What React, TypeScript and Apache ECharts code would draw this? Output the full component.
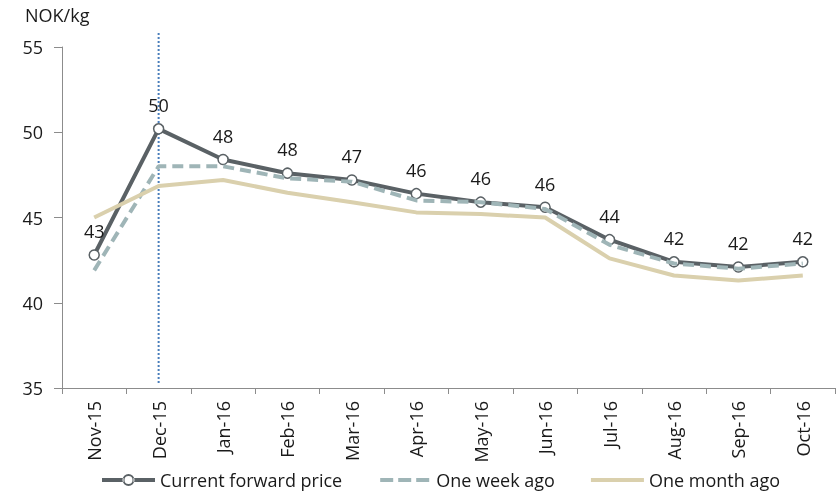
import React, { useEffect, useRef } from "react";
import * as echarts from "echarts";

const categories = ["Nov-15", "Dec-15", "Jan-16", "Feb-16", "Mar-16", "Apr-16", "May-16", "Jun-16", "Jul-16", "Aug-16", "Sep-16", "Oct-16"];
const currentForward = [42.8, 50.2, 48.4, 47.6, 47.2, 46.4, 45.9, 45.6, 43.7, 42.4, 42.1, 42.4];
const oneWeekAgo = [41.9, 48.0, 48.0, 47.3, 47.1, 46.0, 45.9, 45.5, 43.4, 42.3, 42.0, 42.3];
const oneMonthAgo = [45.0, 46.85, 47.2, 46.45, 45.9, 45.3, 45.2, 45.0, 42.6, 41.6, 41.3, 41.6];
const markerCategory = "Dec-15";
const yTicks = { min: 35, max: 55, interval: 5 };

const FONT = "'Open Sans', sans-serif";
const TEXT = "#1a1a1a";
const C_CUR = "#5a6165";
const C_WEEK = "#9fb5b7";
const C_MONTH = "#dad0ad";

const BOUNDS = "M0,0h0.01v0.01h-0.01z M52.99,13.99h0.01v0.01h-0.01z ";
const ICON_CUR =
  "path://" + BOUNDS +
  "M0,5h21.5v4h-21.5z M31.5,5h21.5v4h-21.5z " +
  "M20.5,7a6,6 0 1,0 12,0a6,6 0 1,0 -12,0z M22.5,7a4,4 0 1,1 8,0a4,4 0 1,1 -8,0z";
const ICON_WEEK = "path://" + BOUNDS + "M2,5h13v4h-13z M20,5h13v4h-13z M38,5h13v4h-13z";
const ICON_MONTH = "path://" + BOUNDS + "M0,5h53v4h-53z";

export default function App() {
  const ref = useRef<HTMLDivElement>(null);
  useEffect(() => {
    if (!ref.current) return;
    const chart = echarts.init(ref.current, undefined, { renderer: "svg" });
    const option: any = {
      animation: false,
      textStyle: { fontFamily: FONT },
      title: {
        text: "NOK/kg",
        left: 20,
        top: 1,
        textStyle: { fontFamily: FONT, fontSize: 18, fontWeight: "normal", color: TEXT },
      },
      grid: { left: 62, right: 3, top: 47, bottom: 104 },
      legend: {
        left: 97,
        top: 466,
        itemWidth: 53,
        itemHeight: 14,
        itemGap: 36,
        textStyle: { fontFamily: FONT, fontSize: 18, color: TEXT },
        data: [
          { name: "Current forward price", icon: ICON_CUR, itemStyle: { color: C_CUR, borderWidth: 0 } },
          { name: "One week ago", icon: ICON_WEEK, itemStyle: { color: C_WEEK, borderWidth: 0 } },
          { name: "One month ago", icon: ICON_MONTH, itemStyle: { color: C_MONTH, borderWidth: 0 } },
        ],
      },
      xAxis: {
        type: "category",
        data: categories,
        boundaryGap: true,
        axisLine: { lineStyle: { color: "#8c8c8c", width: 1 } },
        axisTick: { show: true, length: 6, lineStyle: { color: "#8c8c8c" } },
        axisLabel: { rotate: 90, fontSize: 18, color: TEXT, fontFamily: FONT, margin: 13, interval: 0 },
        splitLine: { show: false },
      },
      yAxis: {
        type: "value",
        min: yTicks.min,
        max: yTicks.max,
        interval: yTicks.interval,
        axisLine: { show: true, lineStyle: { color: "#8c8c8c", width: 1 } },
        axisTick: { show: true, length: 8, lineStyle: { color: "#8c8c8c" } },
        axisLabel: { fontSize: 18, color: TEXT, fontFamily: FONT, margin: 19 },
        splitLine: { show: false },
      },
      series: [
        {
          name: "Current forward price",
          type: "line",
          data: currentForward,
          symbol: "circle",
          symbolSize: 10,
          itemStyle: { color: "#ffffff", borderColor: C_CUR, borderWidth: 1.5 },
          lineStyle: { color: C_CUR, width: 4 },
          label: {
            show: true,
            position: "top",
            distance: 9,
            fontSize: 18,
            color: TEXT,
            fontFamily: FONT,
            formatter: (p: any) => String(Math.round(p.value)),
          },
          z: 2,
        },
        {
          name: "One week ago",
          type: "line",
          data: oneWeekAgo,
          symbol: "none",
          itemStyle: { color: C_WEEK },
          lineStyle: { color: C_WEEK, width: 4, type: [11, 6] },
          z: 3,
        },
        {
          name: "One month ago",
          type: "line",
          data: oneMonthAgo,
          symbol: "none",
          itemStyle: { color: C_MONTH },
          lineStyle: { color: C_MONTH, width: 4 },
          z: 4,
        },
      ],
    };
    chart.setOption(option);
    const px = chart.convertToPixel({ xAxisIndex: 0, yAxisIndex: 0 }, [markerCategory, yTicks.min]) as number[];
    if (px) {
      chart.setOption({
        graphic: [
          {
            type: "line",
            shape: { x1: px[0], y1: 33, x2: px[0], y2: px[1] - 5 },
            style: { stroke: "#4a7ebb", lineWidth: 2, lineDash: [2, 2] },
            z: 1,
          },
        ],
      });
    }
    return () => chart.dispose();
  }, []);
  return <div ref={ref} style={{ position: "fixed", left: 0, top: 0, width: 838, height: 492 }} />;
}
